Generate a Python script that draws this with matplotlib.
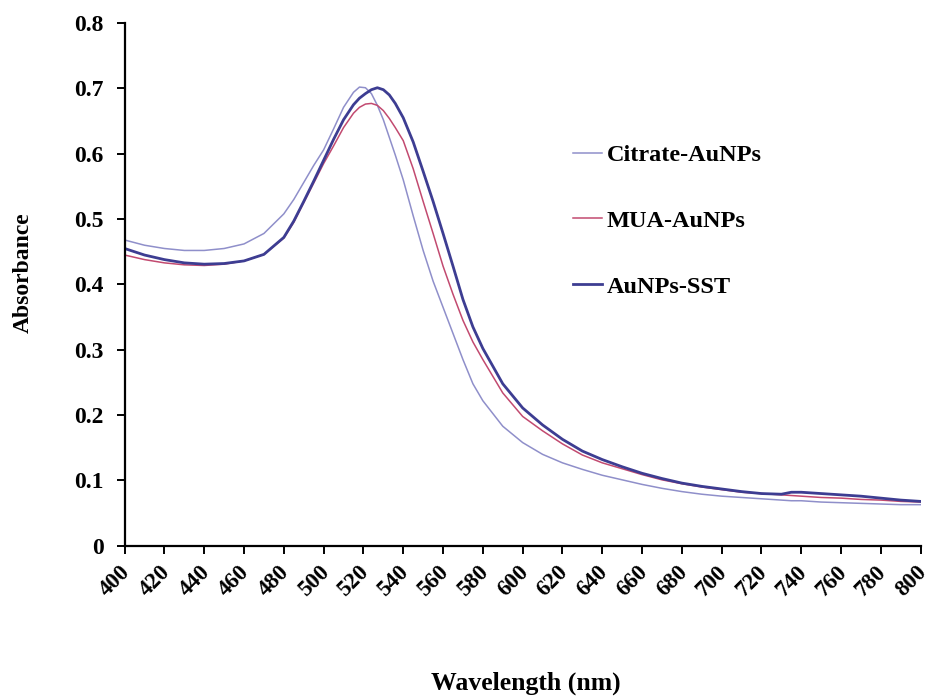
import matplotlib.pyplot as plt
import matplotlib.transforms as mtransforms
from matplotlib.ticker import FixedLocator

# wavelength grid (nm)
wl = [400, 410, 420, 430, 440, 450, 460, 470, 480, 485, 490, 495, 500, 505, 510, 515, 518, 521,
      524, 527, 530, 533, 536, 540, 545, 550, 555, 560, 565, 570, 575, 580, 590, 600, 610, 620,
      630, 640, 650, 660, 670, 680, 690, 700, 710, 720, 730, 735, 740, 750, 760, 770, 780, 790, 800]

citrate = [0.468, 0.460, 0.455, 0.452, 0.452, 0.455, 0.462, 0.478, 0.508, 0.530, 0.556, 0.582,
           0.606, 0.638, 0.671, 0.694, 0.702, 0.701, 0.692, 0.674, 0.652, 0.625, 0.598, 0.560,
           0.505, 0.452, 0.405, 0.365, 0.325, 0.285, 0.248, 0.222, 0.183, 0.158, 0.140, 0.127,
           0.117, 0.108, 0.101, 0.094, 0.088, 0.083, 0.079, 0.076, 0.074, 0.072, 0.070, 0.069,
           0.069, 0.067, 0.066, 0.065, 0.064, 0.063, 0.063]

mua = [0.445, 0.438, 0.433, 0.430, 0.429, 0.431, 0.436, 0.446, 0.471, 0.495, 0.525, 0.555,
       0.585, 0.612, 0.640, 0.662, 0.671, 0.676, 0.677, 0.674, 0.666, 0.654, 0.640, 0.620,
       0.577, 0.527, 0.478, 0.428, 0.385, 0.345, 0.312, 0.285, 0.234, 0.198, 0.176, 0.156,
       0.139, 0.127, 0.118, 0.109, 0.101, 0.095, 0.090, 0.086, 0.082, 0.080, 0.078, 0.077,
       0.076, 0.074, 0.073, 0.071, 0.070, 0.068, 0.067]

sst = [0.455, 0.445, 0.438, 0.433, 0.431, 0.432, 0.436, 0.446, 0.472, 0.497, 0.527, 0.558,
       0.590, 0.622, 0.652, 0.675, 0.685, 0.692, 0.698, 0.701, 0.698, 0.690, 0.677, 0.655,
       0.618, 0.573, 0.527, 0.478, 0.428, 0.377, 0.335, 0.302, 0.248, 0.211, 0.185, 0.163,
       0.145, 0.132, 0.121, 0.111, 0.103, 0.096, 0.091, 0.087, 0.083, 0.080, 0.079, 0.082,
       0.082, 0.080, 0.078, 0.076, 0.073, 0.070, 0.068]

xticks = list(range(400, 801, 20))
yticks = [0, 0.1, 0.2, 0.3, 0.4, 0.5, 0.6, 0.7, 0.8]
ytick_labels = ['0', '0.1', '0.2', '0.3', '0.4', '0.5', '0.6', '0.7', '0.8']

plt.rcParams['font.family'] = 'Liberation Serif'
plt.rcParams['font.weight'] = 'bold'

fig = plt.figure(figsize=(9.3, 6.98), dpi=100)
ax = fig.add_axes([0.134, 0.218, 0.856, 0.749])

ax.plot(wl, citrate, color='#8f8fca', lw=1.1, label='Citrate-AuNPs')
ax.plot(wl, mua, color='#c24a70', lw=1.1, label='MUA-AuNPs')
ax.plot(wl, sst, color='#3d3d92', lw=2.0, label='AuNPs-SST')

ax.set_xlim(400, 800)
ax.set_ylim(0, 0.8)
ax.xaxis.set_major_locator(FixedLocator(xticks))
ax.set_yticks(yticks)
ax.set_yticklabels(ytick_labels)
ax.set_xticklabels([str(x) for x in xticks], rotation=45, ha='right', rotation_mode='anchor')

for s in ['top', 'right']:
    ax.spines[s].set_visible(False)
for s in ['left', 'bottom']:
    ax.spines[s].set_linewidth(1.6)
ax.tick_params(axis='both', direction='out', length=6, width=1.4, labelsize=17)
ax.tick_params(axis='x', labelsize=16.5, pad=5)
ax.tick_params(axis='y', pad=9)

# nudge the slanted labels a little left so "800" stays inside the figure
shift = mtransforms.ScaledTranslation(-5 / 100, 0, fig.dpi_scale_trans)
for lab in ax.get_xticklabels():
    lab.set_transform(lab.get_transform() + shift)

fig.text(0.565, 0.021, 'Wavelength (nm)', ha='center', va='center', fontsize=18.5, fontweight='bold')
fig.text(0.025, 0.61, 'Absorbance', ha='center', va='center', rotation=90, fontsize=17, fontweight='bold')

ax.legend(loc='upper left', bbox_to_anchor=(573 / 930, 1 - 144 / 698), bbox_transform=fig.transFigure,
          frameon=False, fontsize=17.5, labelspacing=1.8, handlelength=1.2, handletextpad=0.2,
          borderpad=0, borderaxespad=0)

fig.savefig('out.png', dpi=100)
